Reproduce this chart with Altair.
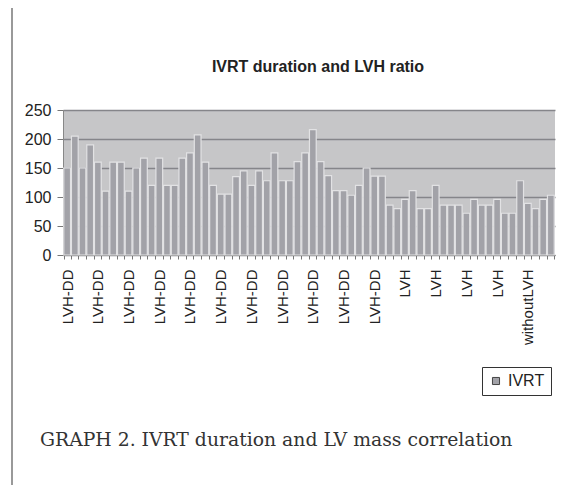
import json
import altair as alt
import pandas as pd

# IVRT values (ms) per patient
ivrt = [150, 205, 150, 190, 160, 110, 160, 160, 110, 150, 167, 120, 167, 120, 120, 167,
        176, 207, 160, 120, 105, 105, 135, 145, 120, 145, 128, 176, 128, 128, 161, 176,
        216, 161, 137, 111, 111, 103, 120, 150, 136, 136, 86, 80, 96, 111, 80, 80,
        120, 86, 86, 86, 72, 96, 86, 86, 96, 72, 72, 128, 89, 80, 96, 103]

group_names = ["LVH-DD", "LVH", "withoutLVH"]
group_counts = [44, 16, 4]
categories = [g for g, n in zip(group_names, group_counts) for _ in range(n)]

y_ticks = [0, 50, 100, 150, 200, 250]
series_name = "IVRT"
title_text = "IVRT duration and LVH ratio"
caption_text = "GRAPH 2. IVRT duration and LV mass correlation"

df = pd.DataFrame({"idx": list(range(len(ivrt))), "ivrt": ivrt, "cat": categories,
                   "series": [series_name] * len(ivrt)})

labels_js = json.dumps(categories)
label_expr = f"datum.value % 4 == 0 ? {labels_js}[datum.value] : ''"

bars = alt.Chart(df).mark_bar(stroke="#e2e2e4", strokeWidth=1.2).encode(
    x=alt.X("idx:O", title=None,
            scale=alt.Scale(paddingInner=0.12, paddingOuter=0.1),
            axis=alt.Axis(labelExpr=label_expr, labelAngle=270, labelFontSize=15,
                          labelFont="Liberation Sans", labelColor="#222",
                          labelPadding=10, tickBand="extent", tickSize=4,
                          tickColor="#777", domainColor="#777", labelOverlap=False,
                          grid=False)),
    y=alt.Y("ivrt:Q", title=None,
            scale=alt.Scale(domain=[0, 250], nice=False),
            axis=alt.Axis(values=y_ticks, labelFontSize=16, labelFont="Liberation Sans",
                          labelColor="#222", tickSize=6, tickColor="#777",
                          labelPadding=6, domainColor="#888", gridColor="#85858a",
                          gridWidth=1.4)),
    color=alt.Color("series:N", scale=alt.Scale(domain=[series_name], range=["#a2a2a8"]),
                    legend=alt.Legend(title=None, orient="none", legendX=419, legendY=257,
                                      strokeColor="#333", padding=6, symbolType="square",
                                      symbolSize=50, symbolStrokeColor="#444",
                                      symbolStrokeWidth=1, labelFontSize=16,
                                      labelFont="Liberation Sans", labelColor="#222")),
)

title = alt.Chart(pd.DataFrame({"t": [title_text]})).mark_text(
    font="Liberation Sans", fontSize=16, fontWeight="bold", color="#222",
    align="center", baseline="middle").encode(
    x=alt.value(255), y=alt.value(-43), text="t:N")

caption = alt.Chart(pd.DataFrame({"t": [caption_text]})).mark_text(
    font="DejaVu Serif", fontSize=18.8, color="#333",
    align="left", baseline="middle").encode(
    x=alt.value(-23), y=alt.value(330), text="t:N")

frame = alt.Chart(pd.DataFrame({"a": [0]})).mark_rule(color="#555", strokeWidth=1.2).encode(
    x=alt.value(-51), y=alt.value(-102), y2=alt.value(380))

chart = alt.layer(bars, title, caption, frame).properties(
    width=492, height=145,
    autosize=alt.AutoSizeParams(type="none"),
    padding={"left": 55, "top": 102, "right": 7, "bottom": 230},
).configure(background="white").configure_view(fill="#c6c6c8", stroke=None)

chart.save("out.html", embed_options={"renderer": "svg", "actions": False})
